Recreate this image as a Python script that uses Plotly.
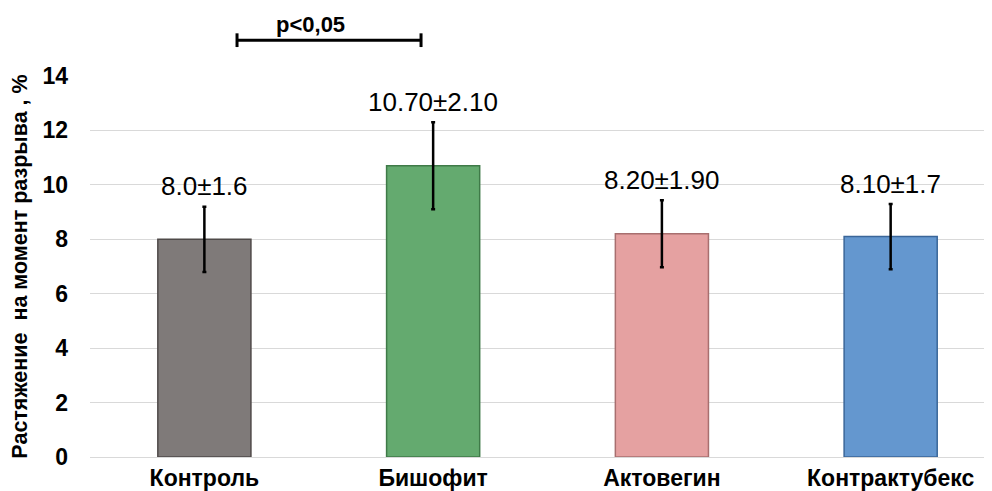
import plotly.graph_objects as go

categories = ["Контроль", "Бишофит", "Актовегин", "Контрактубекс"]
means = [8.0, 10.7, 8.2, 8.1]
errors = [1.2, 1.6, 1.23, 1.2]
value_labels = ["8.0±1.6", "10.70±2.10", "8.20±1.90", "8.10±1.7"]
bar_colors = ["#7f7a79", "#64aa6f", "#e5a1a1", "#6497cf"]
edge_colors = ["#4f4a49", "#3f7a48", "#a86f6f", "#3a6699"]
y_ticks = [0, 2, 4, 6, 8, 10, 12, 14]

FONT = "Liberation Sans, Arial, sans-serif"

fig = go.Figure()
fig.add_trace(go.Bar(
    x=categories,
    y=means,
    marker=dict(color=bar_colors, line=dict(color=edge_colors, width=1.5)),
    error_y=dict(type="data", array=errors, visible=True, color="#000000",
                 thickness=2.5, width=2),
    width=0.407,
    showlegend=False,
    hoverinfo="skip",
))

annotations = []
for c, m, e, t in zip(categories, means, errors, value_labels):
    annotations.append(dict(
        x=c, y=m + e + 0.75, xref="x", yref="y", text=t, showarrow=False,
        font=dict(family=FONT, size=26, color="#000000"),
        xanchor="center", yanchor="middle",
    ))

annotations.append(dict(
    x=0.245, y=1.136, xref="paper", yref="paper", text="<b>p<0,05</b>",
    showarrow=False, font=dict(family=FONT, size=22, color="#000000"),
    xanchor="center", yanchor="middle",
))

shapes = [
    dict(type="line", xref="paper", yref="paper", x0=0.163, x1=0.367, y0=1.094, y1=1.094,
         line=dict(color="#000000", width=3)),
    dict(type="line", xref="paper", yref="paper", x0=0.163, x1=0.163, y0=1.076, y1=1.112,
         line=dict(color="#000000", width=3)),
    dict(type="line", xref="paper", yref="paper", x0=0.367, x1=0.367, y0=1.076, y1=1.112,
         line=dict(color="#000000", width=3)),
]

fig.update_layout(
    width=984, height=483,
    margin=dict(l=82, r=0, t=68, b=32),
    plot_bgcolor="#ffffff", paper_bgcolor="#ffffff",
    font=dict(family=FONT, color="#000000"),
    annotations=annotations,
    shapes=shapes,
    bargap=0.593,
)
fig.update_xaxes(
    range=[-0.5, 3.443],
    showgrid=False, showline=False, zeroline=False,
    tickfont=dict(family=FONT, size=23, color="#000000", weight="bold"),
    ticks="", ticklabelstandoff=5,
)
fig.update_yaxes(
    range=[0, 14], tickvals=y_ticks, ticktext=[str(v) for v in y_ticks],
    showgrid=True, gridcolor="#d9d9d9", gridwidth=1,
    zeroline=True, zerolinecolor="#d9d9d9", zerolinewidth=1,
    showline=False, ticks="",
    tickfont=dict(family=FONT, size=23, color="#000000", weight="bold"),
    ticklabelstandoff=21,
    title=dict(text="<b>Растяжение\u00a0 на момент разрыва , %</b>",
               font=dict(family=FONT, size=21.5, color="#000000"), standoff=8),
)

fig.write_html("out.html")
